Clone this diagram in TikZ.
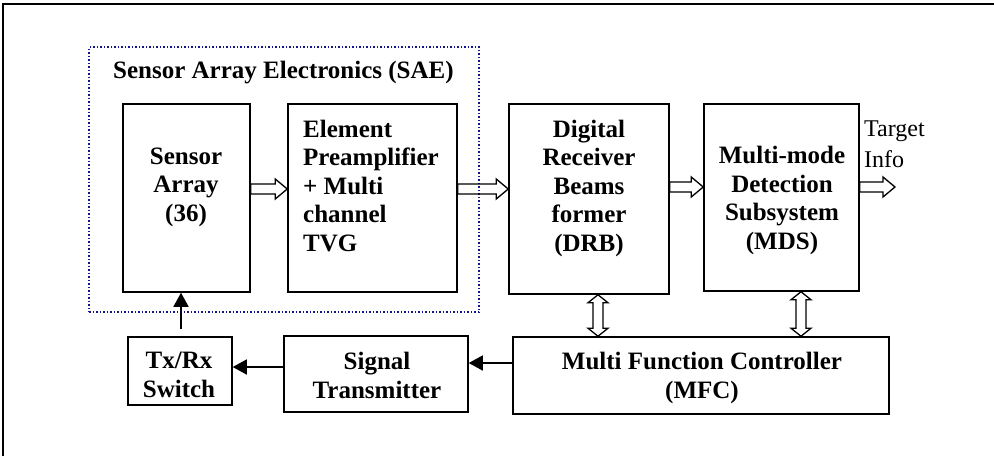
\documentclass[tikz,border=0pt]{standalone}
\usepackage{fontspec}
\setmainfont{Liberation Serif}
\usepackage{tikz}
\usetikzlibrary{calc}
\usetikzlibrary{arrows.meta}
\definecolor{navy}{RGB}{20,20,140}

\begin{document}
\begin{tikzpicture}[x=1pt, y=-1pt,
  main/.style = {draw, line width=1.5pt, inner sep=0pt},
  txt/.style = {font=\fontsize{25}{28.5}\selectfont\bfseries, align=center, inner sep=0pt, anchor=base},
  arr/.style = {line width=1.5pt, -{Triangle[length=14pt,width=15pt]}},
  hol/.style = {draw, line width=1.3pt, to path={let \p1=(\tikztostart), \p2=(\tikztotarget) in
    (\x1,\y1+5pt) -- (\x2-12pt,\y1+5pt) -- (\x2-12pt,\y1+10pt) -- (\x2,\y1)
    -- (\x2-12pt,\y1-10pt) -- (\x2-12pt,\y1-5pt) -- (\x1,\y1-5pt) -- cycle}},
  dhol/.style = {draw, line width=1.3pt, to path={let \p1=(\tikztostart), \p2=(\tikztotarget) in
    (\x1,\y1) -- (\x1+10pt,\y1-8pt) -- (\x1+5pt,\y1-8pt) -- (\x1+5pt,\y2+8pt) -- (\x1+10pt,\y2+8pt)
    -- (\x1,\y2) -- (\x1-10pt,\y2+8pt) -- (\x1-5pt,\y2+8pt) -- (\x1-5pt,\y1-8pt) -- (\x1-10pt,\y1-8pt) -- cycle}}]
\useasboundingbox (0,0) rectangle (994,456);
\draw[line width=1.5pt] (3,456) -- (3,4) -- (994,4);

% SAE group
\node[draw=navy, dotted, line width=1.5pt, minimum width=390pt, minimum height=265pt] (sae) at (284,179.5) {};
\node[txt, anchor=base west] (sae-t) at (113,78) {Sensor Array Electronics (SAE)};

% top row (text anchored on its last line)
\node[main, minimum width=127pt, minimum height=188pt] (sa) at (186.5,198) {};
\node[main, minimum width=169pt, minimum height=188pt] (pre) at (372.5,198) {};
\node[main, minimum width=160pt, minimum height=190pt] (drb) at (589,199) {};
\node[main, minimum width=155pt, minimum height=187pt] (mds) at (781.5,197.5) {};
\node[txt] (sa-t) at (186,221) {Sensor\\Array\\(36)};
\node[txt, align=left, anchor=base west] (pre-t) at (303,251) {Element\\Preamplifier\\+ Multi\\channel\\TVG};
\node[txt] (drb-t) at (589,251) {Digital\\Receiver\\Beams\\former\\(DRB)};
\node[txt] (mds-t) at (782,249) {Multi-mode\\Detection\\Subsystem\\(MDS)};
\node[font=\fontsize{24}{31}\selectfont, align=left, inner sep=0pt, anchor=base west] (info) at (864,167) {Target\\Info};
\coordinate (tgt) at (895,187);

% bottom row
\node[main, minimum width=104pt, minimum height=68pt] (sw) at (180,371) {};
\node[main, minimum width=184pt, minimum height=76pt] (tx) at (376,374) {};
\node[main, minimum width=376pt, minimum height=77pt] (mfc) at (701,375.5) {};
\node[txt] (sw-t) at (179,397) {Tx/Rx\\Switch};
\node[txt] (tx-t) at (377,398) {Signal\\Transmitter};
\node[txt] (mfc-t) at (702,398) {Multi Function Controller\\(MFC)};

% data flow
\draw[hol] ([yshift=9pt]sa.east) to (pre.west);
\draw[hol] ([yshift=9pt]pre.east) to (drb.west);
\draw[hol] ([yshift=12pt]drb.east) to (mds.west);
\draw[hol] ([yshift=10.5pt]mds.east) to (tgt);
\draw[dhol] ([xshift=9pt]drb.south) to ([xshift=9pt]drb.south |- mfc.north);
\draw[dhol] ([xshift=19.5pt]mds.south) to ([xshift=19.5pt]mds.south |- mfc.north);

% control
\draw[arr] ([yshift=12.5pt]mfc.west) -- ([yshift=12.5pt]mfc.west -| tx.east);
\draw[arr] ([yshift=7pt]tx.west) -- ([yshift=7pt]tx.west -| sw.east);
\draw[arr] ([xshift=1pt,yshift=7pt]sw.north) -- ([xshift=1pt]sw.north |- sa.south);
\end{tikzpicture}
\end{document}
